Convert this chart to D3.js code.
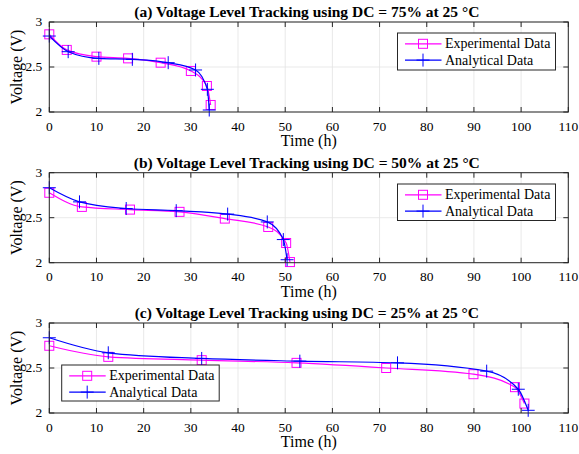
<!DOCTYPE html>
<html>
<head>
<meta charset="utf-8">
<script src="https://cdn.jsdelivr.net/npm/d3@7"></script>
<style>
body { margin: 0; background: #fff; }
</style>
</head>
<body>
<svg id="chart" width="579" height="454"></svg>
<script>
// values
var titles = [
    "(a) Voltage Level Tracking using DC = 75% at 25 \u00B0C",
    "(b) Voltage Level Tracking using DC = 50% at 25 \u00B0C",
    "(c) Voltage Level Tracking using DC = 25% at 25 \u00B0C"];
var xTicks = [0, 10, 20, 30, 40, 50, 60, 70, 80, 90, 100, 110];
var yTicks = [2, 2.5, 3];
var yTickLabels = ["2", "2.5", "3"];
var seriesNames = ["Experimental Data", "Analytical Data"];

// (a) DC = 75%
var expTimeA = [0, 3.7, 10, 16.7, 23.6, 30, 33.4, 34.2];
var expVoltA = [2.863, 2.69, 2.615, 2.596, 2.548, 2.456, 2.289, 2.078];
var anaTimeA = [0, 4.0, 10.5, 17.6, 25.2, 31, 33.5, 33.9];
var anaVoltA = [2.844, 2.67, 2.596, 2.585, 2.548, 2.467, 2.252, 2.022];

// (b) DC = 50%
var expTimeB = [0, 6.9, 17.1, 27.6, 37.2, 46.4, 50.2, 51.0];
var expVoltB = [2.777, 2.62, 2.59, 2.565, 2.49, 2.397, 2.219, 2.007];
var anaTimeB = [0, 6.4, 16.3, 26.9, 37.8, 46.2, 49.6, 50.4];
var anaVoltB = [2.833, 2.676, 2.602, 2.578, 2.54, 2.453, 2.257, 2.033];

// (c) DC = 25%
var expTimeC = [0, 12.5, 32.3, 52.4, 71.4, 89.9, 98.7, 100.7];
var expVoltC = [2.747, 2.624, 2.587, 2.557, 2.50, 2.431, 2.287, 2.105];
var anaTimeC = [0, 12.5, 32.3, 53.1, 73.8, 92.7, 99.4, 101.5];
var anaVoltC = [2.836, 2.669, 2.606, 2.576, 2.557, 2.465, 2.264, 2.03];

var svg = d3.select("#chart");
var left = 49.3, right = 568.3, plotH = 90;
var expColor = "#ff00ff", anaColor = "#0000ff", axisColor = "#262626";
var serif = "'Liberation Serif'";

var panels = [
    {top: 22, title: titles[0], exp: [expTimeA, expVoltA], ana: [anaTimeA, anaVoltA], legend: {x: 397.5, y: 33, w: 158, h: 37}},
    {top: 172.7, title: titles[1], exp: [expTimeB, expVoltB], ana: [anaTimeB, anaVoltB], legend: {x: 397.5, y: 184, w: 158, h: 36.5}},
    {top: 323, title: titles[2], exp: [expTimeC, expVoltC], ana: [anaTimeC, anaVoltC], legend: {x: 61.7, y: 365, w: 157.5, h: 36}}
];

function zip(t, v) { return t.map(function(d, i) { return {t: d, v: v[i]}; }); }

function label(g, size) {
    return g.append("text").style("font-family", serif).style("font-size", size + "px").attr("fill", "#000");
}
function square(g, x, y, color) {
    g.append("rect").attr("x", x - 4.5).attr("y", y - 4.5).attr("width", 9).attr("height", 9)
        .attr("fill", "none").attr("stroke", color).attr("stroke-width", 1);
}
function plus(g, x, y, color) {
    g.append("path").attr("d", "M" + (x - 6.5) + "," + y + "H" + (x + 6.5) + "M" + x + "," + (y - 6.5) + "V" + (y + 6.5))
        .attr("stroke", color).attr("stroke-width", 1).attr("fill", "none");
}

panels.forEach(function(p, k) {
    var x = d3.scaleLinear().domain([0, 110]).range([left, right]);
    var y = d3.scaleLinear().domain([2, 3]).range([p.top + plotH, p.top]);
    var bottom = p.top + plotH;
    var g = svg.append("g");

    // grid
    g.selectAll(".gx").data(xTicks).enter().append("line")
        .attr("x1", d => x(d)).attr("x2", d => x(d))
        .attr("y1", p.top).attr("y2", bottom)
        .attr("stroke", "#e3e3e3").attr("stroke-width", 0.8);
    g.selectAll(".gy").data(yTicks).enter().append("line")
        .attr("x1", left).attr("x2", right)
        .attr("y1", d => y(d)).attr("y2", d => y(d))
        .attr("stroke", "#e3e3e3").attr("stroke-width", 0.8);

    // clip for lines
    svg.append("clipPath").attr("id", "clip" + k).append("rect")
        .attr("x", left).attr("y", p.top).attr("width", right - left).attr("height", plotH);

    var line = d3.line().x(d => x(d.t)).y(d => y(d.v)).curve(d3.curveMonotoneX);
    var exp = zip(p.exp[0], p.exp[1]);
    var ana = zip(p.ana[0], p.ana[1]);

    g.append("path").datum(exp).attr("d", line).attr("clip-path", "url(#clip" + k + ")")
        .attr("fill", "none").attr("stroke", expColor).attr("stroke-width", 1.2);
    exp.forEach(function(d) { square(g, x(d.t), y(d.v), expColor); });

    g.append("path").datum(ana).attr("d", line).attr("clip-path", "url(#clip" + k + ")")
        .attr("fill", "none").attr("stroke", anaColor).attr("stroke-width", 1.2);
    ana.forEach(function(d) { plus(g, x(d.t), y(d.v), anaColor); });

    // box + inward ticks
    g.append("rect").attr("x", left).attr("y", p.top).attr("width", right - left).attr("height", plotH)
        .attr("fill", "none").attr("stroke", axisColor).attr("stroke-width", 1);
    xTicks.forEach(function(d) {
        g.append("line").attr("x1", x(d)).attr("x2", x(d)).attr("y1", bottom).attr("y2", bottom - 5)
            .attr("stroke", axisColor);
        g.append("line").attr("x1", x(d)).attr("x2", x(d)).attr("y1", p.top).attr("y2", p.top + 5)
            .attr("stroke", axisColor);
        label(g, 13.5).attr("x", x(d)).attr("y", bottom + 18.5).attr("text-anchor", "middle").text(d);
    });
    yTicks.forEach(function(d, i) {
        g.append("line").attr("x1", left).attr("x2", left + 5).attr("y1", y(d)).attr("y2", y(d))
            .attr("stroke", axisColor);
        g.append("line").attr("x1", right).attr("x2", right - 5).attr("y1", y(d)).attr("y2", y(d))
            .attr("stroke", axisColor);
        label(g, 13.5).attr("x", left - 7).attr("y", y(d)).attr("dy", "0.33em").attr("text-anchor", "end")
            .text(yTickLabels[i]);
    });

    // labels
    label(g, 15.5).attr("x", (left + right) / 2 - 2).attr("y", p.top - 5).attr("text-anchor", "middle")
        .style("font-weight", "bold").text(p.title);
    label(g, 16).attr("x", (left + right) / 2).attr("y", bottom + 34).attr("text-anchor", "middle")
        .text("Time (h)");
    label(g, 16).attr("transform", "translate(22," + (p.top + plotH / 2) + ") rotate(-90)")
        .attr("text-anchor", "middle").text("Voltage (V)");

    // legend
    var L = p.legend;
    var lg = g.append("g");
    lg.append("rect").attr("x", L.x).attr("y", L.y).attr("width", L.w).attr("height", L.h)
        .attr("fill", "#fff").attr("stroke", axisColor).attr("stroke-width", 1);
    [expColor, anaColor].forEach(function(c, i) {
        var ry = L.y + 10.8 + i * 16.3;
        lg.append("line").attr("x1", L.x + 7.5).attr("x2", L.x + 44).attr("y1", ry).attr("y2", ry)
            .attr("stroke", c).attr("stroke-width", 1.2);
        if (i === 0) square(lg, L.x + 25.5, ry, c); else plus(lg, L.x + 25.5, ry, c);
        label(lg, 14).attr("x", L.x + 47.5).attr("y", ry).attr("dy", "0.33em").text(seriesNames[i]);
    });
});
</script>
</body>
</html>
